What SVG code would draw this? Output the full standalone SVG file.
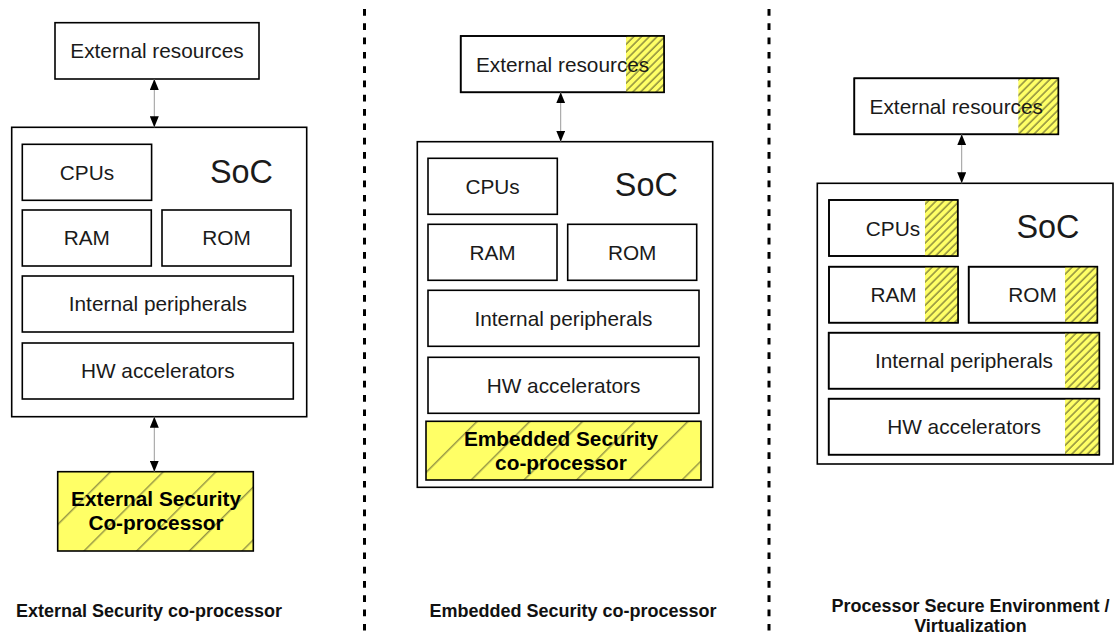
<svg xmlns="http://www.w3.org/2000/svg" width="1115" height="637" viewBox="0 0 1115 637">
  <style>
    .box { fill: #ffffff; stroke: #000000; stroke-width: 1.6; }
    .frame { fill: none; stroke: #000000; stroke-width: 1.6; }
    .hatch { fill: url(#hatchDense); stroke: none; }
    .secure { fill: url(#hatchWide); stroke: #000000; stroke-width: 1.6; }
    .lbl { font-family: "Liberation Sans", Arial, sans-serif; font-size: 20.8px; text-anchor: middle; fill: #1a1a1a; }
    .soc { font-size: 32.4px; }
    .bold { font-weight: bold; fill: #000000; }
    .cap { font-family: "Liberation Sans", Arial, sans-serif; font-size: 18px; font-weight: bold; text-anchor: middle; fill: #111111; }
    .link { stroke: #9a9a9a; stroke-width: 1; marker-start: url(#head); marker-end: url(#head); }
    .divider { stroke: #000000; stroke-width: 3; stroke-dasharray: 6.7 7.6; }
  </style>
  <defs>
    <pattern id="hatchWide" patternUnits="userSpaceOnUse" width="37.27" height="10" patternTransform="rotate(45)">
      <rect width="37.27" height="10" fill="#ffff66"/>
      <line x1="1.8" y1="0" x2="1.8" y2="10" stroke="#3c3c28" stroke-width="0.8"/>
    </pattern>
    <pattern id="hatchDense" patternUnits="userSpaceOnUse" width="5.5" height="10" patternTransform="rotate(45)">
      <rect width="5.5" height="10" fill="#ffff66"/>
      <line x1="1" y1="0" x2="1" y2="10" stroke="#33331f" stroke-width="0.9"/>
    </pattern>
    <marker id="head" viewBox="0 0 11 9" refX="11" refY="4.5" markerWidth="11" markerHeight="9" markerUnits="userSpaceOnUse" orient="auto-start-reverse">
      <path d="M0,0 L11,4.5 L0,9 Z" fill="#000000"/>
    </marker>
  </defs>

  <rect width="1115" height="637" fill="#ffffff"/>

  <!-- column dividers -->
  <g id="dividers">
    <line class="divider" x1="364.5" y1="9" x2="364.5" y2="637"/>
    <line class="divider" x1="769" y1="9" x2="769" y2="637"/>
  </g>

  <!-- column 1: external security co-processor -->
  <g id="ext-res-1">
    <rect class="box" x="55" y="22.7" width="204" height="56.3"/>
    <text class="lbl" x="157" y="57.5">External resources</text>
  </g>
  <g id="soc-1">
    <rect class="box" x="11.7" y="127.3" width="295" height="289.4"/>
    <text class="lbl soc" x="241.4" y="182.7">SoC</text>
  </g>
  <g id="cpus-1">
    <rect class="box" x="22.3" y="144.3" width="129.3" height="56"/>
    <text class="lbl" x="87" y="180">CPUs</text>
  </g>
  <g id="ram-1">
    <rect class="box" x="22.3" y="210" width="129" height="56"/>
    <text class="lbl" x="86.8" y="245.4">RAM</text>
  </g>
  <g id="rom-1">
    <rect class="box" x="162" y="210" width="129" height="56"/>
    <text class="lbl" x="226.5" y="245.4">ROM</text>
  </g>
  <g id="periph-1">
    <rect class="box" x="22.3" y="276" width="271" height="56"/>
    <text class="lbl" x="157.8" y="311.4">Internal peripherals</text>
  </g>
  <g id="hwacc-1">
    <rect class="box" x="22.3" y="343" width="271" height="56"/>
    <text class="lbl" x="157.8" y="378.4">HW accelerators</text>
  </g>
  <g id="ext-sec-cop">
    <rect class="secure" x="57.7" y="471.7" width="195.6" height="79.3"/>
    <text class="lbl bold" x="156" y="506">External Security</text>
    <text class="lbl bold" x="156" y="530">Co-processor</text>
  </g>

  <!-- column 2: embedded security co-processor -->
  <g id="ext-res-2">
    <rect class="box" x="460.7" y="36" width="203.3" height="56.3"/>
    <rect class="hatch" x="626" y="36" width="38" height="56.3"/>
    <rect class="frame" x="460.7" y="36" width="203.3" height="56.3"/>
    <text class="lbl" x="562.6" y="72.3">External resources</text>
  </g>
  <g id="soc-2">
    <rect class="box" x="417.3" y="141.7" width="295.4" height="345.6"/>
    <text class="lbl soc" x="646.3" y="196.3">SoC</text>
  </g>
  <g id="cpus-2">
    <rect class="box" x="428" y="158.3" width="129.3" height="56"/>
    <text class="lbl" x="492.6" y="194">CPUs</text>
  </g>
  <g id="ram-2">
    <rect class="box" x="428" y="224.3" width="129" height="56"/>
    <text class="lbl" x="492.5" y="259.7">RAM</text>
  </g>
  <g id="rom-2">
    <rect class="box" x="567.7" y="224.3" width="129" height="56"/>
    <text class="lbl" x="632.2" y="259.7">ROM</text>
  </g>
  <g id="periph-2">
    <rect class="box" x="428" y="290.3" width="271" height="56"/>
    <text class="lbl" x="563.5" y="325.7">Internal peripherals</text>
  </g>
  <g id="hwacc-2">
    <rect class="box" x="428" y="357.3" width="271" height="56"/>
    <text class="lbl" x="563.5" y="392.7">HW accelerators</text>
  </g>
  <g id="emb-sec-cop">
    <rect class="secure" x="426" y="421.3" width="275" height="58.7"/>
    <text class="lbl bold" x="561" y="446">Embedded Security</text>
    <text class="lbl bold" x="561" y="469.5">co-processor</text>
  </g>

  <!-- column 3: processor secure environment -->
  <g id="ext-res-3">
    <rect class="box" x="854.3" y="78.3" width="204" height="56"/>
    <rect class="hatch" x="1018.3" y="78.3" width="40" height="56"/>
    <rect class="frame" x="854.3" y="78.3" width="204" height="56"/>
    <text class="lbl" x="956.3" y="114.3">External resources</text>
  </g>
  <g id="soc-3">
    <rect class="box" x="817.3" y="183.3" width="295.7" height="280.7"/>
    <text class="lbl soc" x="1048" y="237.7">SoC</text>
  </g>
  <g id="cpus-3">
    <rect class="box" x="829" y="200" width="128.7" height="56"/>
    <rect class="hatch" x="925" y="200" width="32.7" height="56"/>
    <rect class="frame" x="829" y="200" width="128.7" height="56"/>
    <text class="lbl" x="893" y="235.7">CPUs</text>
  </g>
  <g id="ram-3">
    <rect class="box" x="829" y="266.7" width="129" height="56"/>
    <rect class="hatch" x="925" y="266.7" width="33" height="56"/>
    <rect class="frame" x="829" y="266.7" width="129" height="56"/>
    <text class="lbl" x="893.5" y="301.7">RAM</text>
  </g>
  <g id="rom-3">
    <rect class="box" x="968.7" y="266.7" width="128.6" height="56"/>
    <rect class="hatch" x="1065" y="266.7" width="32.3" height="56"/>
    <rect class="frame" x="968.7" y="266.7" width="128.6" height="56"/>
    <text class="lbl" x="1032.5" y="301.7">ROM</text>
  </g>
  <g id="periph-3">
    <rect class="box" x="828.7" y="332.7" width="270.6" height="56"/>
    <rect class="hatch" x="1065" y="332.7" width="34.3" height="56"/>
    <rect class="frame" x="828.7" y="332.7" width="270.6" height="56"/>
    <text class="lbl" x="964" y="367.7">Internal peripherals</text>
  </g>
  <g id="hwacc-3">
    <rect class="box" x="828.7" y="398.7" width="270.6" height="56"/>
    <rect class="hatch" x="1065" y="398.7" width="34.3" height="56"/>
    <rect class="frame" x="828.7" y="398.7" width="270.6" height="56"/>
    <text class="lbl" x="964" y="434">HW accelerators</text>
  </g>

  <!-- bidirectional links -->
  <g id="connectors">
    <line class="link" x1="154.3" y1="79" x2="154.3" y2="127.3"/>
    <line class="link" x1="154.3" y1="416.7" x2="154.3" y2="471.7"/>
    <line class="link" x1="560.7" y1="92.3" x2="560.7" y2="141.7"/>
    <line class="link" x1="961.7" y1="134.3" x2="961.7" y2="183.3"/>
  </g>

  <!-- column captions -->
  <g id="captions">
    <text class="cap" x="149" y="617">External Security co-processor</text>
    <text class="cap" x="573" y="617">Embedded Security co-processor</text>
    <text class="cap" x="970.5" y="612">Processor Secure Environment /</text>
    <text class="cap" x="970.5" y="632">Virtualization</text>
  </g>
</svg>
